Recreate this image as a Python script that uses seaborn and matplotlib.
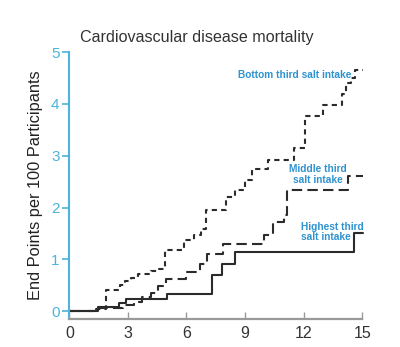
import matplotlib
matplotlib.use("Agg")
import matplotlib.pyplot as plt
import seaborn as sns
import pandas as pd

# Bottom third salt intake (short dashes)
bottom_x = [0, 1.35, 1.9, 2.6, 2.85, 3.15, 3.5, 4.2, 4.6, 4.9, 5.85, 6.4, 6.75, 7.0, 8.05, 8.5, 9.0, 9.35, 10.2, 11.5, 12.05, 13.0, 13.95, 14.15, 14.45, 14.65, 15.05]
bottom_y = [0, 0.05, 0.4, 0.5, 0.58, 0.64, 0.72, 0.77, 0.82, 1.18, 1.37, 1.47, 1.58, 1.95, 2.21, 2.34, 2.53, 2.75, 2.92, 3.14, 3.76, 3.98, 4.2, 4.4, 4.49, 4.65, 4.65]

# Middle third salt intake (long dashes)
middle_x = [0, 1.5, 2.75, 3.3, 3.7, 4.2, 4.55, 4.97, 6.0, 6.7, 7.05, 7.85, 9.95, 10.45, 11.0, 11.15, 14.25, 15.05]
middle_y = [0, 0.06, 0.12, 0.18, 0.28, 0.36, 0.48, 0.63, 0.76, 0.92, 1.11, 1.3, 1.47, 1.73, 1.85, 2.34, 2.6, 2.6]

# Highest third salt intake (solid)
high_x = [0, 1.45, 2.55, 2.9, 5.0, 7.32, 7.83, 8.48, 14.59, 15.05]
high_y = [0, 0.08, 0.15, 0.23, 0.34, 0.69, 0.92, 1.15, 1.5, 1.5]

x_ticks = [0, 3, 6, 9, 12, 15]
y_ticks = [0, 1, 2, 3, 4, 5]

title = "Cardiovascular disease mortality"
ylabel = "End Points per 100 Participants"

sns.set_style("white")
plt.rcParams['font.family'] = ['Liberation Sans', 'DejaVu Sans']

fig = plt.figure(figsize=(4.0, 3.47), dpi=100)
ax = fig.add_axes([0.1733, 0.0807, 0.7322, 0.7693])

line_color = "#2b2b2b"
blue = "#4db3d9"
text_blue = "#2f93d0"

df_b = pd.DataFrame({"x": bottom_x, "y": bottom_y})
df_m = pd.DataFrame({"x": middle_x, "y": middle_y})
df_h = pd.DataFrame({"x": high_x, "y": high_y})

sns.lineplot(data=df_h, x="x", y="y", ax=ax, color=line_color, lw=1.5,
             drawstyle="steps-post", estimator=None, sort=False, clip_on=False)
sns.lineplot(data=df_m, x="x", y="y", ax=ax, color=line_color, lw=1.5,
             drawstyle="steps-post", estimator=None, sort=False, clip_on=False,
             dashes=False, linestyle=(0, (5, 2.5)))
sns.lineplot(data=df_b, x="x", y="y", ax=ax, color=line_color, lw=1.5,
             drawstyle="steps-post", estimator=None, sort=False, clip_on=False,
             dashes=False, linestyle=(0, (2.5, 2)))

ax.set_xlim(0, 15)
ax.set_ylim(-0.15, 5.0)
ax.set_xticks(x_ticks)
ax.set_yticks(y_ticks)
ax.set_xlabel("")
ax.set_ylabel(ylabel, fontsize=11.8, color="#222222", labelpad=6)

for s in ["top", "right"]:
    ax.spines[s].set_visible(False)
ax.spines["left"].set_color(blue)
ax.spines["left"].set_linewidth(1.5)
ax.spines["bottom"].set_color("#999999")
ax.spines["bottom"].set_linewidth(1.6)

ax.tick_params(axis="y", direction="out", length=5, width=1.2, color=blue,
               labelcolor=blue, labelsize=11, pad=2, left=True)
ax.tick_params(axis="x", direction="in", length=5, width=1.0, color="#999999",
               labelcolor="#333333", labelsize=11.5, pad=5, bottom=True)

fig.text(0.2, 0.893, title, fontsize=11.6, color="#333333", ha="left", va="center")

ax.text(14.42, 4.56, "Bottom third salt intake", fontsize=7.3, fontweight="bold",
        color=text_blue, ha="right", va="center")
ax.text(12.75, 2.63, "Middle third\nsalt intake", fontsize=7.3, fontweight="bold",
        color=text_blue, ha="center", va="center", linespacing=1.1)
ax.text(11.85, 1.53, "Highest third\nsalt intake", fontsize=7.3, fontweight="bold",
        color=text_blue, ha="left", va="center", linespacing=1.1)

fig.savefig("out.png", dpi=100)
